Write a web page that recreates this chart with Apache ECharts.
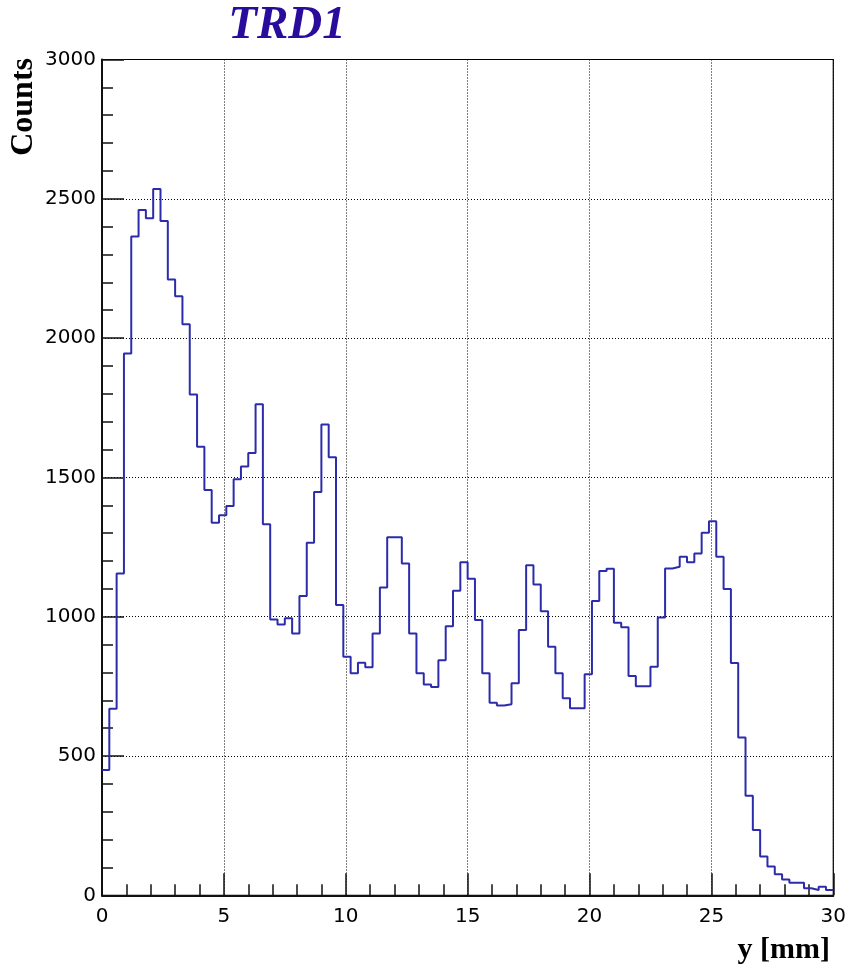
<!DOCTYPE html>
<html>
<head>
<meta charset="utf-8">
<script src="https://cdn.jsdelivr.net/npm/echarts@6/dist/echarts.min.js"></script>
<style>
  html, body { margin: 0; padding: 0; background: #fff; }
  #chart { width: 849px; height: 968px; }
</style>
</head>
<body>
<div id="chart"></div>
<script>
// Histogram of hit position y, 100 bins of 0.3 mm from 0 to 30 mm
const binLow = 0;
const binWidth = 0.3;
const counts = [
  450, 670, 1155, 1945, 2365, 2460, 2430, 2535, 2420, 2210,
  2150, 2050, 1798, 1610, 1455, 1337, 1364, 1397, 1493, 1539,
  1588, 1763, 1332, 990, 972, 994, 940, 1074, 1265, 1448,
  1690, 1572, 1042, 856, 797, 835, 819, 940, 1105, 1285,
  1285, 1191, 940, 797, 757, 748, 844, 966, 1093, 1195,
  1136, 988, 797, 691, 681, 686, 761, 952, 1185, 1116,
  1020, 892, 797, 707, 671, 671, 793, 1056, 1164, 1172,
  978, 962, 787, 750, 750, 820, 997, 1173, 1179, 1215,
  1195, 1227, 1301, 1343, 1215, 1099, 834, 566, 357, 234,
  139, 103, 76, 57, 45, 45, 25, 19, 31, 19
];
const xTicks = [0, 5, 10, 15, 20, 25, 30];
const yTicks = [0, 500, 1000, 1500, 2000, 2500, 3000];

// Step outline: each bin's low edge carries its count, closing point at the upper edge
const outline = counts.map((c, i) => [binLow + i * binWidth, c]);
outline.push([binLow + counts.length * binWidth, counts[counts.length - 1]]);

const labelFont = { fontFamily: 'DejaVu Sans', fontSize: 20, color: '#000' };
const dotted = { type: [1, 2], color: '#000', width: 1 };

const chart = echarts.init(document.getElementById('chart'), null, { renderer: 'canvas' });
chart.setOption({
  animation: false,
  backgroundColor: '#fff',
  grid: {
    left: 102, right: 15.5, top: 59.5, bottom: 72.7,
    show: true, borderColor: '#000', borderWidth: 1.2, backgroundColor: 'transparent'
  },
  xAxis: {
    type: 'value',
    min: xTicks[0], max: xTicks[xTicks.length - 1], interval: 5,
    axisLine: { show: true, onZero: false, lineStyle: { color: '#111', width: 2 } },
    axisTick: { show: true, inside: true, length: 22, lineStyle: { color: '#111', width: 1.5 } },
    minorTick: { show: true, splitNumber: 5, length: 11, lineStyle: { color: '#111', width: 1.5 } },
    axisLabel: Object.assign({ margin: 11, formatter: v => String(v) }, labelFont),
    splitLine: { show: true, lineStyle: dotted }
  },
  yAxis: {
    type: 'value',
    min: yTicks[0], max: yTicks[yTicks.length - 1], interval: 500,
    axisLine: { show: true, onZero: false, lineStyle: { color: '#111', width: 2 } },
    axisTick: { show: true, inside: true, length: 22, lineStyle: { color: '#111', width: 1.5 } },
    minorTick: { show: true, splitNumber: 5, length: 11, lineStyle: { color: '#111', width: 1.5 } },
    axisLabel: Object.assign({ margin: 6, formatter: v => String(v) }, labelFont),
    splitLine: { show: true, lineStyle: dotted }
  },
  series: [{
    type: 'line',
    data: outline,
    step: 'end',
    showSymbol: false,
    symbol: 'none',
    lineStyle: { color: '#2c2cab', width: 2 },
    clip: true
  }],
  graphic: [
    {
      type: 'text', x: 287, y: 26,
      style: {
        text: 'TRD1', textAlign: 'center', textVerticalAlign: 'middle',
        font: 'italic bold 47px "Liberation Serif", serif', fill: '#2a0c9c'
      }
    },
    {
      type: 'text', x: 24, y: 58, rotation: Math.PI / 2,
      style: {
        text: 'Counts', textAlign: 'right', textVerticalAlign: 'middle',
        font: 'bold 32px "Liberation Serif", serif', fill: '#000'
      }
    },
    {
      type: 'text', x: 830, y: 950,
      style: {
        text: 'y [mm]', textAlign: 'right', textVerticalAlign: 'middle',
        font: 'bold 30px "Liberation Serif", serif', fill: '#000'
      }
    }
  ]
});
</script>
</body>
</html>
